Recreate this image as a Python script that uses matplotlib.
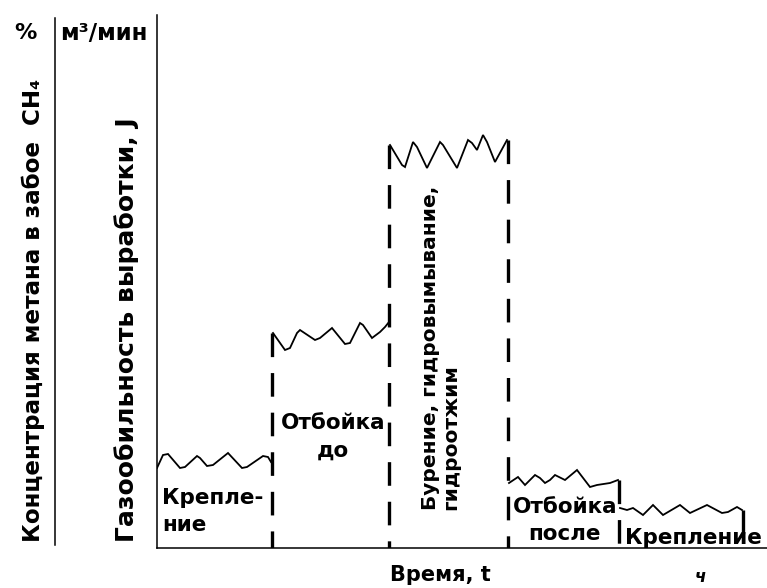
import matplotlib
matplotlib.use("Agg")
import matplotlib.pyplot as plt
from matplotlib.lines import Line2D

plt.rcParams['font.family'] = ['DejaVu Sans']
plt.rcParams['lines.scale_dashes'] = False

# ---- data (arbitrary units) ----
boundaries = [115, 232, 351, 462, 586]

wave1_x = [0, 6, 11, 23, 28, 40, 43, 50, 56, 71, 85, 90, 106, 111, 114]
wave1_y = [80, 93, 94, 80, 81, 92, 90, 82, 83, 95, 80, 81, 92, 91, 86]

wave2_x = [116, 128, 133, 140, 143, 158, 163, 175, 188, 193, 203, 206, 215, 223, 228, 232]
wave2_y = [215, 198, 200, 215, 218, 208, 210, 220, 204, 205, 225, 223, 210, 216, 221, 226]

wave3_x = [233, 245, 248, 256, 260, 270, 283, 286, 300, 311, 315, 320, 326, 330, 338, 350]
wave3_y = [403, 383, 381, 406, 401, 380, 406, 403, 380, 408, 405, 398, 413, 406, 386, 408]

wave4_x = [352, 361, 368, 378, 383, 388, 393, 398, 408, 420, 433, 440, 453, 461]
wave4_y = [65, 71, 63, 73, 70, 65, 68, 73, 68, 78, 61, 63, 65, 68]

wave5_x = [463, 470, 476, 486, 496, 506, 523, 533, 550, 565, 571, 580, 585]
wave5_y = [40, 38, 40, 33, 43, 33, 43, 35, 43, 35, 36, 41, 38]

waves = [(wave1_x, wave1_y), (wave2_x, wave2_y), (wave3_x, wave3_y),
         (wave4_x, wave4_y), (wave5_x, wave5_y)]

seg_labels = ["Крепле-\nние", "Отбойка\nдо", "Бурение, гидровымывание,\nгидроотжим",
              "Отбойка\nпосле", "Крепление"]

ylabel_left = "Концентрация метана в забое  CH₄"
ylabel_right = "Газообильность выработки, J"
unit_left = "%"
unit_right = "м³/мин"
xlabel = "Время, t"
xunit = "ч"

# ---- figure ----
W, H = 767, 588
fig = plt.figure(figsize=(W / 100, H / 100), dpi=100)
ax = fig.add_axes([157 / W, (H - 548) / H, 610 / W, 533 / H])
ax.set_xlim(0, 610)
ax.set_ylim(0, 533)
for s in ("top", "right"):
    ax.spines[s].set_visible(False)
for s in ("left", "bottom"):
    ax.spines[s].set_linewidth(1.1)
ax.set_xticks([])
ax.set_yticks([])

for wx, wy in waves:
    ax.plot(wx, wy, color="black", lw=1.3, solid_joinstyle="miter")

# dashed separators: from the higher adjacent level down to the axis
for i, b in enumerate(boundaries):
    left_end = waves[i][1][-1]
    right_start = waves[i + 1][1][0] if i + 1 < len(waves) else left_end
    top = max(left_end, right_start)
    ax.plot([b, b], [top, 0], color="black", lw=2.4, dashes=(17, 11.5),
            solid_capstyle="butt", dash_capstyle="butt")

fs = 15.5
ax.text(5, 60, seg_labels[0], ha="left", va="top", fontsize=fs,
        fontweight="bold", linespacing=1.45)
ax.text(176, 135, seg_labels[1], ha="center", va="top", fontsize=fs,
        fontweight="bold", linespacing=1.45, multialignment="center")
ax.text(284, 38, seg_labels[2], ha="center", va="bottom", rotation=90,
        fontsize=14.5, fontweight="bold", linespacing=1.08, multialignment="left")
ax.text(408, 51, seg_labels[3], ha="center", va="top", fontsize=fs,
        fontweight="bold", linespacing=1.45, multialignment="center")
ax.text(468, 20, seg_labels[4], ha="left", va="top", fontsize=fs,
        fontweight="bold")

# axis titles
fig.text(33 / W, 1 - 310 / H, ylabel_left, rotation=90, ha="center", va="center",
         fontsize=16.6, fontweight="bold")
fig.text(127 / W, 1 - 330 / H, ylabel_right, rotation=90, ha="center", va="center",
         fontsize=18, fontweight="bold")
fig.text(25 / W, 1 - 33 / H, unit_left, ha="center", va="center", fontsize=16,
         fontweight="bold")
fig.text(60 / W, 1 - 33 / H, unit_right, ha="left", va="center", fontsize=16.5,
         fontweight="bold")
fig.text(440 / W, 1 - 575 / H, xlabel, ha="center", va="center", fontsize=15,
         fontweight="bold")
fig.text(700 / W, 1 - 577 / H, xunit, ha="center", va="center", fontsize=12,
         fontweight="bold", style="italic")

fig.add_artist(Line2D([55 / W, 55 / W], [1 - 18 / H, 1 - 545 / H],
                      transform=fig.transFigure, color="black", lw=1.1))

fig.savefig("out.png", dpi=100)
